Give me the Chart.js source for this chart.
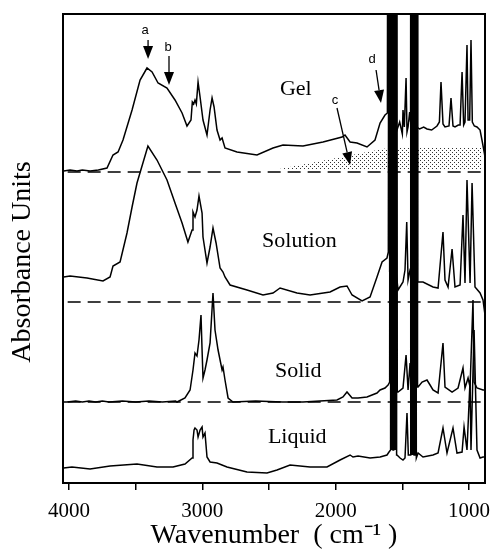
<!DOCTYPE html>
<html>
<head>
<meta charset="utf-8">
<script src="https://cdn.jsdelivr.net/npm/chart.js@4.4.1/dist/chart.umd.min.js"></script>
<style>
  html, body { margin: 0; padding: 0; background: #fff; }
</style>
</head>
<body>
<canvas id="myChart" width="490" height="550"></canvas>
<script>
// IR spectra of the same compound as gel, solution, solid and liquid

const xTicks = [4000, 3500, 3000, 2500, 2000, 1500, 1000];
const xTickLabels = ["4000", "3000", "2000", "1000"];

const spectrumNames = ["Gel", "Solution", "Solid", "Liquid"];
// each spectrum sits on its own baseline (the dashed lines)
const baselineOffsets = [3.11, 1.81, 0.81, 0.13];

// [wavenumber, absorbance above baseline]
const gel = [
  [4040, 0.01], [3992, 0.02], [3940, 0.01], [3900, 0.02], [3842, 0.01], [3780, 0.02],
  [3715, 0.04], [3670, 0.17], [3632, 0.20], [3595, 0.32], [3527, 0.62], [3467, 0.92],
  [3415, 1.04], [3377, 1.00], [3332, 0.89], [3265, 0.84], [3205, 0.72], [3152, 0.59],
  [3115, 0.46], [3085, 0.52], [3075, 0.70], [3065, 0.68], [3055, 0.72], [3045, 0.68],
  [3032, 0.90], [3017, 0.75], [2995, 0.52], [2965, 0.37], [2942, 0.62], [2927, 0.74],
  [2912, 0.65], [2890, 0.42], [2867, 0.32], [2852, 0.34], [2830, 0.24], [2740, 0.20],
  [2590, 0.17], [2470, 0.24], [2395, 0.27], [2245, 0.26], [2095, 0.30], [1952, 0.35],
  [1930, 0.37], [1892, 0.30], [1840, 0.29], [1765, 0.25], [1705, 0.32], [1667, 0.49],
  [1630, 0.57], [1612, 0.59],
  [1607, 6], [1602, 0.8], [1597, 6], [1592, 1.0], [1587, 6], [1582, 1.2], [1577, 6],
  [1572, 0.9], [1567, 6], [1562, 0.6],
  [1540, 0.42], [1520, 0.50], [1500, 0.38], [1495, 0.62], [1485, 0.45], [1472, 0.94],
  [1465, 0.40], [1457, 0.45], [1445, 0.60], [1438, 0.50],
  [1435, 6], [1430, 0.6], [1425, 6], [1420, 0.6], [1415, 6], [1410, 0.6], [1405, 6],
  [1400, 0.6], [1397, 6], [1392, 0.45],
  [1370, 0.43], [1340, 0.45], [1315, 0.43], [1280, 0.42], [1240, 0.46], [1222, 0.50],
  [1210, 0.90], [1195, 0.48], [1180, 0.45], [1150, 0.46], [1135, 0.74], [1120, 0.46],
  [1105, 0.45], [1080, 0.47], [1067, 0.47], [1052, 1.00], [1040, 0.47], [1030, 0.50],
  [1015, 1.27], [1007, 0.52], [995, 0.52], [985, 1.32], [975, 0.50], [960, 0.46],
  [940, 0.45], [917, 0.42], [900, 0.30], [885, 0.19], [875, 0.10]
];

const solution = [
  [4040, 0.25], [3992, 0.26], [3865, 0.24], [3745, 0.21], [3692, 0.25], [3670, 0.36],
  [3617, 0.40], [3565, 0.69], [3527, 0.95], [3490, 1.19], [3408, 1.56], [3340, 1.42],
  [3265, 1.22], [3205, 0.99], [3152, 0.79], [3108, 0.60], [3077, 0.72], [3070, 0.90],
  [3055, 0.85], [3040, 0.92], [3025, 1.06], [3002, 0.89], [2995, 0.65], [2965, 0.39],
  [2942, 0.55], [2920, 0.74], [2897, 0.59], [2867, 0.34], [2845, 0.30], [2830, 0.25],
  [2792, 0.17], [2665, 0.12], [2545, 0.07], [2470, 0.09], [2417, 0.14], [2290, 0.09],
  [2192, 0.07], [2042, 0.10], [1967, 0.15], [1915, 0.16], [1877, 0.07], [1802, 0.01],
  [1742, 0.05], [1690, 0.25], [1652, 0.40], [1615, 0.44], [1605, 0.50],
  [1600, 6], [1595, 0.3], [1590, 6], [1585, 0.3], [1580, 6], [1575, 0.3], [1570, 6],
  [1565, 0.3], [1560, 6], [1555, 0.3], [1550, 6], [1547, 0.3],
  [1532, 0.12], [1495, 0.20], [1480, 0.32], [1467, 0.80], [1457, 0.22], [1442, 0.32],
  [1430, 0.30],
  [1427, 6], [1422, 0.2], [1417, 6], [1412, 0.2], [1407, 6], [1402, 0.2], [1397, 6],
  [1392, 0.2], [1388, 6], [1385, 0.2],
  [1345, 0.20], [1270, 0.15], [1232, 0.14], [1195, 0.70], [1180, 0.22], [1157, 0.15],
  [1127, 0.53], [1105, 0.15], [1067, 0.17], [1045, 0.87], [1030, 0.19], [1015, 1.22],
  [992, 0.19], [977, 1.19], [955, 0.15], [917, 0.09], [895, 0.02], [880, -0.13],
  [875, -0.20]
];

const solid = [
  [4040, 0.00], [4015, 0.00], [3950, 0.01], [3900, 0.00], [3850, 0.01], [3800, 0.00],
  [3750, 0.01], [3700, 0.00], [3600, 0.01], [3500, 0.00], [3400, 0.01], [3300, 0.00],
  [3200, 0.01], [3190, 0.00], [3130, 0.04], [3092, 0.12], [3070, 0.32], [3055, 0.49],
  [3040, 0.46], [3025, 0.62], [3010, 0.87], [3002, 0.52], [2995, 0.24], [2980, 0.32],
  [2965, 0.42], [2942, 0.59], [2920, 1.09], [2905, 0.72], [2882, 0.52], [2852, 0.32],
  [2845, 0.35], [2830, 0.22], [2807, 0.04], [2770, 0.00], [2600, 0.01], [2400, 0.00],
  [2245, 0.00], [1990, 0.02], [1945, 0.05], [1915, 0.10], [1877, 0.04], [1832, 0.04],
  [1765, 0.05], [1690, 0.09], [1667, 0.12], [1630, 0.14], [1607, 0.17], [1595, 0.20],
  [1592, 6], [1587, 0.2], [1582, 6], [1577, 0.2], [1572, 6], [1567, 0.2], [1562, 6],
  [1557, 0.2], [1552, 6], [1547, 0.2], [1542, 6], [1538, 0.1],
  [1532, 0.10], [1495, 0.14], [1472, 0.47], [1457, 0.12], [1442, 0.39], [1435, 0.17],
  [1430, 6], [1425, 0.2], [1420, 6], [1415, 0.2], [1410, 6], [1405, 0.2], [1400, 6],
  [1395, 0.2], [1390, 6], [1386, 0.15],
  [1382, 0.15], [1352, 0.20], [1315, 0.22], [1292, 0.17], [1270, 0.12], [1232, 0.09],
  [1195, 0.59], [1180, 0.15], [1127, 0.10], [1082, 0.14], [1045, 0.34], [1030, 0.14],
  [1007, 0.24], [992, 0.15], [970, 1.02], [962, 0.20], [940, 0.14], [895, 0.12],
  [875, 0.12]
];

const liquid = [
  [4040, 0.02], [3978, 0.03], [3842, 0.01], [3692, 0.04], [3490, 0.06], [3340, 0.03],
  [3220, 0.03], [3130, 0.06], [3077, 0.12], [3070, 0.30], [3062, 0.40], [3055, 0.42],
  [3040, 0.40], [3032, 0.33], [3017, 0.40], [3002, 0.43], [2995, 0.33], [2980, 0.37],
  [2965, 0.13], [2942, 0.08], [2890, 0.07], [2815, 0.03], [2665, -0.02], [2515, -0.03],
  [2440, 0.00], [2342, 0.05], [2192, 0.03], [2065, 0.03], [1967, 0.10], [1892, 0.15],
  [1870, 0.13], [1832, 0.14], [1742, 0.12], [1667, 0.13], [1615, 0.15], [1600, 0.18],
  [1588, 0.20],
  [1585, 6], [1580, 0.2], [1575, 6], [1570, 0.2], [1565, 6], [1560, 0.2], [1555, 6],
  [1550, 0.2], [1547, 6], [1543, 0.15],
  [1540, 0.15], [1517, 0.12], [1495, 0.10], [1480, 0.12], [1465, 0.57], [1455, 0.15],
  [1440, 0.15],
  [1437, 6], [1432, 0.15], [1427, 6], [1422, 0.15], [1417, 6], [1412, 0.15], [1407, 6],
  [1402, 0.15], [1399, 6], [1395, 0.12],
  [1382, 0.17], [1345, 0.13], [1270, 0.15], [1232, 0.17], [1195, 0.42], [1165, 0.17],
  [1120, 0.42], [1090, 0.17], [1052, 0.18], [1037, 0.43], [1015, 0.20], [992, 0.90],
  [985, 0.20], [962, 1.40], [940, 0.20], [917, 0.12], [895, 0.13], [875, 0.13]
];

// shaded region "c" under the gel spectrum
const gelShade = [[2460, 0.02], [1570, 0.25], [910, 0.25]];

const spectra = [gel, solution, solid, liquid];

// ---- look & layout ----
const SERIF = "'Liberation Serif', 'Times New Roman', serif";

const textLabels = [
  { text: "Gel", wn: 2418, a: 3.88 },
  { text: "Solution", wn: 2552, a: 2.36 },
  { text: "Solid", wn: 2455, a: 1.06 },
  { text: "Liquid", wn: 2508, a: 0.40 }
];

const arrows = [
  { tag: "a", tagAt: [3430, 4.53], from: [3407, 4.43], to: [3407, 4.24] },
  { tag: "b", tagAt: [3257, 4.36], from: [3250, 4.27], to: [3250, 3.98] },
  { tag: "c", tagAt: [2005, 3.83], from: [1990, 3.75], to: [1892, 3.18] },
  { tag: "d", tagAt: [1727, 4.24], from: [1697, 4.13], to: [1660, 3.80] }
];

function makeStipple() {
  const c = document.createElement("canvas");
  c.width = 4;
  c.height = 4;
  const g = c.getContext("2d");
  g.fillStyle = "#333";
  g.fillRect(0, 0, 1, 1);
  g.fillRect(2, 2, 1, 1);
  return g.createPattern(c, "repeat");
}

function drawArrow(ctx, x1, y1, x2, y2) {
  const ang = Math.atan2(y2 - y1, x2 - x1);
  const len = 13, half = 5;
  const bx = x2 - Math.cos(ang) * len;
  const by = y2 - Math.sin(ang) * len;
  ctx.beginPath();
  ctx.moveTo(x1, y1);
  ctx.lineTo(bx, by);
  ctx.lineWidth = 1.3;
  ctx.stroke();
  ctx.beginPath();
  ctx.moveTo(x2, y2);
  ctx.lineTo(bx - Math.sin(ang) * half, by + Math.cos(ang) * half);
  ctx.lineTo(bx + Math.sin(ang) * half, by - Math.cos(ang) * half);
  ctx.closePath();
  ctx.fill();
}

const decorPlugin = {
  id: "decor",
  afterDatasetsDraw(chart) {
    const { ctx, chartArea, scales } = chart;
    const px = (wn) => scales.x.getPixelForValue(wn);
    const py = (a) => scales.y.getPixelForValue(a);
    ctx.save();
    ctx.strokeStyle = "#000";
    ctx.fillStyle = "#000";

    // frame
    ctx.lineWidth = 2;
    ctx.strokeRect(chartArea.left, chartArea.top,
      chartArea.right - chartArea.left, chartArea.bottom - chartArea.top);

    // spectrum names
    ctx.font = "22px " + SERIF;
    ctx.textAlign = "left";
    ctx.textBaseline = "alphabetic";
    textLabels.forEach((l) => ctx.fillText(l.text, px(l.wn), py(l.a)));

    // arrows with letters
    ctx.font = "13px 'Liberation Sans', Arial, sans-serif";
    ctx.textAlign = "center";
    ctx.textBaseline = "middle";
    arrows.forEach((ar) => {
      ctx.fillText(ar.tag, px(ar.tagAt[0]), py(ar.tagAt[1]));
      drawArrow(ctx, px(ar.from[0]), py(ar.from[1]), px(ar.to[0]), py(ar.to[1]));
    });

    // y axis title
    ctx.font = "28px " + SERIF;
    ctx.translate(23, 262);
    ctx.rotate(-Math.PI / 2);
    ctx.fillText("Absorbance Units", 0, 0);
    ctx.restore();
  }
};

const ctx = document.getElementById("myChart").getContext("2d");

const datasets = spectra.map((s, i) => ({
  label: spectrumNames[i],
  data: s.map(([w, a]) => ({ x: w, y: a + baselineOffsets[i] })),
  borderColor: "#000",
  borderWidth: 1.5,
  pointRadius: 0,
  fill: false,
  tension: 0
}));

// dashed baselines for gel, solution and solid
const dashEnds = [[4010, 905], [4010, 905], [4010, 885]];
dashEnds.forEach(([w1, w2], i) => {
  datasets.push({
    label: spectrumNames[i] + " baseline",
    data: [{ x: w1, y: baselineOffsets[i] }, { x: w2, y: baselineOffsets[i] }],
    borderColor: "#000",
    borderWidth: 1.5,
    borderDash: [13, 7],
    pointRadius: 0,
    fill: false
  });
});

datasets.push({
  label: "c",
  data: gelShade.map(([w, a]) => ({ x: w, y: a + baselineOffsets[0] })),
  borderWidth: 0,
  borderColor: "rgba(0,0,0,0)",
  backgroundColor: makeStipple(),
  pointRadius: 0,
  fill: { value: baselineOffsets[0] + 0.02 }
});

new Chart(ctx, {
  type: "line",
  data: { datasets: datasets },
  options: {
    responsive: false,
    animation: false,
    layout: { padding: { left: 0, right: 5, top: 14, bottom: 0 } },
    plugins: {
      legend: { display: false },
      tooltip: { enabled: false }
    },
    scales: {
      x: {
        type: "linear",
        reverse: true,
        min: 880,
        max: 4045,
        afterFit: (scale) => {
          scale.height = 67;
          scale.paddingLeft = 0;
          scale.paddingRight = 0;
        },
        afterBuildTicks: (scale) => { scale.ticks = xTicks.map((v) => ({ value: v })); },
        border: { display: false },
        grid: {
          display: true,
          drawOnChartArea: false,
          drawTicks: true,
          tickLength: 7,
          color: "#000",
          lineWidth: 1.5
        },
        ticks: {
          padding: 9,
          color: "#000",
          font: { family: SERIF, size: 21 },
          maxRotation: 0,
          autoSkip: false,
          callback: (v) => (xTickLabels.includes(String(v)) ? String(v) : "")
        },
        title: {
          display: true,
          text: "Wavenumber  ( cm\u207B\u00B9 )",
          color: "#000",
          font: { family: SERIF, size: 28, lineHeight: 1.0 },
          padding: { top: 0, bottom: 0 }
        }
      },
      y: {
        type: "linear",
        min: 0,
        max: 4.69,
        afterFit: (scale) => { scale.width = 63; },
        border: { display: false },
        grid: { display: false },
        ticks: { display: false }
      }
    }
  },
  plugins: [decorPlugin]
});
</script>
</body>
</html>
